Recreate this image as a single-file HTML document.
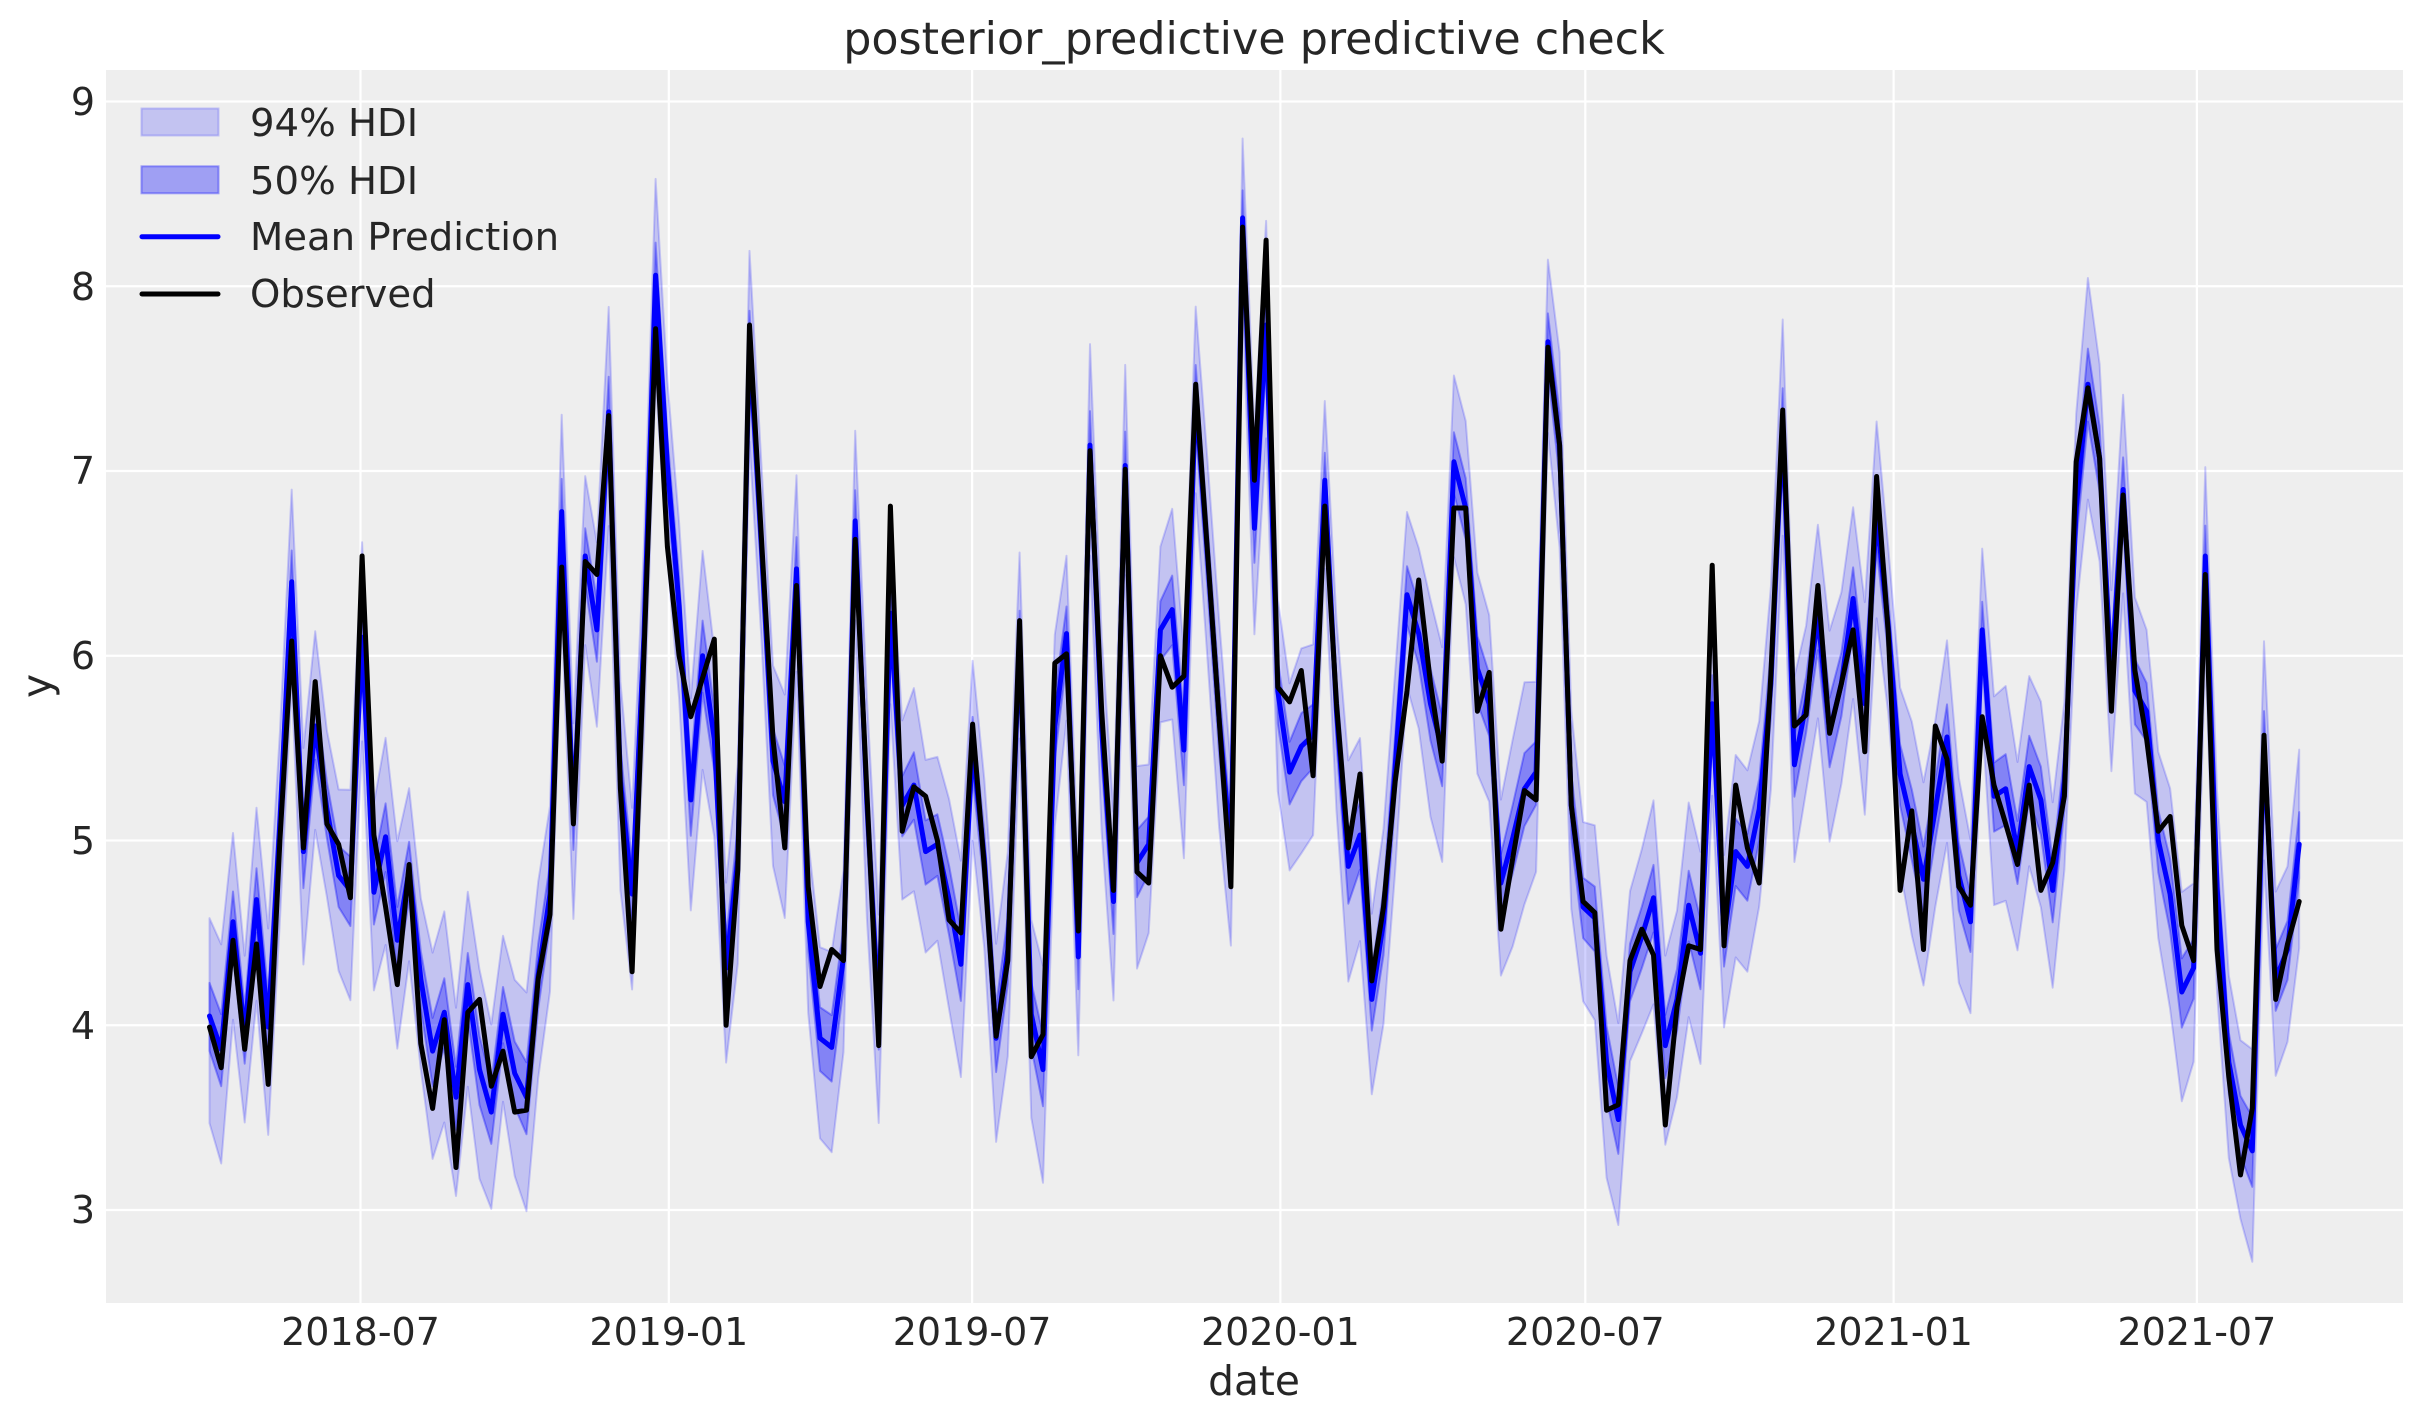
<!DOCTYPE html>
<html>
<head>
<meta charset="utf-8">
<style>
html,body{margin:0;padding:0;background:#ffffff;}
svg{display:block;}
text{font-family:"DejaVu Sans","Liberation Sans",sans-serif;fill:#262626;}
</style>
</head>
<body>
<svg id="chart" xmlns="http://www.w3.org/2000/svg" width="2423" height="1423" viewBox="0 0 2423 1423">
  <defs>
    <clipPath id="pa"><rect x="106" y="70" width="2297" height="1233"/></clipPath>
  </defs>
  <rect x="0" y="0" width="2423" height="1423" fill="#ffffff"/>
  <rect x="106" y="70" width="2297" height="1233" fill="#eeeeee"/>
  <g id="grid" stroke="#ffffff" stroke-width="2.2"></g>
  <g clip-path="url(#pa)">
    <path id="b94" fill="rgb(0,0,255)" fill-opacity="0.18" stroke="rgb(0,0,255)" stroke-opacity="0.18" stroke-width="2" stroke-linejoin="round"/>
    <path id="b50" fill="rgb(0,0,255)" fill-opacity="0.33" stroke="rgb(0,0,255)" stroke-opacity="0.33" stroke-width="2" stroke-linejoin="round"/>
    <path id="lmu" fill="none" stroke="#0000ff" stroke-width="5" stroke-linejoin="round" stroke-linecap="round"/>
    <path id="lobs" fill="none" stroke="#000000" stroke-width="5" stroke-linejoin="round" stroke-linecap="round"/>
  </g>

  <!-- title -->
  <text x="1254" y="54" font-size="44.4" text-anchor="middle">posterior_predictive predictive check</text>

  <!-- y ticks -->
  <g font-size="38" text-anchor="end">
    <text x="95" y="115">9</text>
    <text x="95" y="300">8</text>
    <text x="95" y="484">7</text>
    <text x="95" y="669">6</text>
    <text x="95" y="854">5</text>
    <text x="95" y="1039">4</text>
    <text x="95" y="1223">3</text>
  </g>
  <!-- x ticks -->
  <g font-size="38" text-anchor="middle">
    <text x="360.5" y="1345">2018-07</text>
    <text x="668.8" y="1345">2019-01</text>
    <text x="972.1" y="1345">2019-07</text>
    <text x="1280.4" y="1345">2020-01</text>
    <text x="1585.3" y="1345">2020-07</text>
    <text x="1893.6" y="1345">2021-01</text>
    <text x="2196.9" y="1345">2021-07</text>
  </g>
  <!-- axis labels -->
  <text x="1254" y="1395" font-size="40.7" text-anchor="middle">date</text>
  <text x="51" y="686" font-size="40.7" text-anchor="middle" transform="rotate(-90 51 686)">y</text>

  <!-- legend -->
  <rect x="141.5" y="108.5" width="77" height="27" fill="rgb(0,0,255)" fill-opacity="0.18" stroke="rgb(0,0,255)" stroke-opacity="0.18" stroke-width="2"/>
  <rect x="141.5" y="166.3" width="77" height="27" fill="rgb(0,0,255)" fill-opacity="0.33" stroke="rgb(0,0,255)" stroke-opacity="0.33" stroke-width="2"/>
  <line x1="142" y1="236.7" x2="218" y2="236.7" stroke="#0000ff" stroke-width="5" stroke-linecap="round"/>
  <line x1="142" y1="294" x2="218" y2="294" stroke="#000000" stroke-width="5" stroke-linecap="round"/>
  <g font-size="38.6">
    <text x="250" y="136">94% HDI</text>
    <text x="250" y="194">50% HDI</text>
    <text x="250" y="250">Mean Prediction</text>
    <text x="250" y="307">Observed</text>
  </g>
</svg>
<script>
(function(){
var obs=[3.99,3.77,4.46,3.87,4.44,3.68,5.0,6.08,4.96,5.86,5.09,4.98,4.69,6.54,5.03,4.64,4.22,4.87,3.90,3.55,4.03,3.23,4.07,4.14,3.67,3.86,3.53,3.54,4.25,4.60,
6.48,5.09,6.51,6.44,7.30,5.28,4.29,6.0,7.77,6.59,6.00,5.67,5.88,6.09,4.00,4.84,7.79,6.65,5.55,4.96,6.38,4.75,4.21,4.41,4.35,6.63,5.26,3.89,6.81,5.05,
5.29,5.24,5.00,4.57,4.50,5.63,4.86,3.94,4.35,6.19,3.83,3.95,5.96,6.01,4.51,7.11,5.70,4.73,7.01,4.83,4.77,6.00,5.83,5.89,7.47,6.57,5.66,4.75,8.32,6.95,
8.25,5.83,5.75,5.92,5.35,6.81,5.74,4.96,5.36,4.24,4.64,5.32,5.81,6.41,5.85,5.43,6.80,6.80,5.70,5.91,4.52,4.90,5.27,5.22,7.67,7.14,5.19,4.67,4.61,3.54,
3.57,4.35,4.52,4.38,3.46,4.10,4.43,4.41,6.49,4.43,5.30,4.96,4.77,5.9,7.33,5.62,5.68,6.38,5.58,5.85,6.14,5.48,6.97,6.12,4.73,5.16,4.41,5.62,5.44,4.75,
4.65,5.67,5.30,5.09,4.87,5.30,4.73,4.88,5.24,7.05,7.45,7.07,5.70,6.87,5.92,5.55,5.05,5.13,4.54,4.35,6.44,4.41,3.72,3.19,3.55,5.57,4.14,4.44,4.67];
var mu=[4.05,3.87,4.56,3.95,4.68,3.99,5.1,6.40,4.94,5.62,5.17,4.81,4.73,6.10,4.72,5.02,4.46,4.84,4.25,3.86,4.07,3.61,4.22,3.76,3.53,4.06,3.74,3.61,4.27,4.71,
6.78,5.13,6.54,6.14,7.32,5.32,4.71,6.1,8.06,7.03,6.27,5.22,6.00,5.55,4.31,4.90,7.70,6.60,5.43,5.21,6.47,4.56,3.93,3.88,4.37,6.73,5.20,4.06,6.23,5.19,
5.30,4.94,4.98,4.68,4.33,5.51,4.90,3.93,4.41,6.08,4.06,3.76,5.62,6.12,4.37,7.14,5.60,4.67,7.03,4.88,4.98,6.14,6.25,5.49,7.41,6.55,5.66,4.94,8.37,6.69,
7.79,5.81,5.37,5.51,5.57,6.95,5.70,4.86,5.03,4.14,4.56,5.40,6.33,6.12,5.74,5.49,7.05,6.80,5.93,5.74,4.77,5.01,5.28,5.37,7.70,7.14,5.19,4.64,4.58,3.80,
3.49,4.29,4.48,4.69,3.89,4.14,4.65,4.39,5.74,4.48,4.94,4.86,5.17,5.85,7.26,5.41,5.74,6.21,5.59,5.85,6.31,5.74,6.76,6.16,5.36,5.09,4.79,5.17,5.56,4.81,
4.56,6.14,5.24,5.28,4.94,5.40,5.22,4.73,5.32,6.80,7.47,7.07,5.89,6.90,5.81,5.70,5.00,4.71,4.18,4.31,6.54,4.75,3.80,3.46,3.32,5.51,4.25,4.41,4.98];
function X(i){return 209.5+i*11.74;}
function Y(v){return 101.5+(9-v)*184.75;}
function line(a){var s='';for(var i=0;i<a.length;i++){s+=(i?'L':'M')+X(i).toFixed(1)+' '+Y(a[i]).toFixed(1);}return s;}
function band(up,dn){
  var s='';
  for(var i=0;i<mu.length;i++){s+=(i?'L':'M')+X(i).toFixed(1)+' '+Y(mu[i]+up[i]).toFixed(1);}
  for(var j=mu.length-1;j>=0;j--){s+='L'+X(j).toFixed(1)+' '+Y(mu[j]-dn[j]).toFixed(1);}
  return s+'Z';
}
var u94=[],d94=[],u50=[],d50=[];
for(var i=0;i<mu.length;i++){
  var w=0.05*Math.sin(i*1.7)+0.03*Math.cos(i*0.9);
  u94.push(0.50+w); d94.push(0.55+w);
  u50.push(0.17+w*0.3); d50.push(0.18+w*0.3);
}
document.getElementById('b94').setAttribute('d',band(u94,d94));
document.getElementById('b50').setAttribute('d',band(u50,d50));
document.getElementById('lmu').setAttribute('d',line(mu));
document.getElementById('lobs').setAttribute('d',line(obs));
var g=document.getElementById('grid');
var ns='http://www.w3.org/2000/svg';
[360.5,668.8,972.1,1280.4,1585.3,1893.6,2196.9].forEach(function(x){
  var l=document.createElementNS(ns,'line');
  l.setAttribute('x1',x);l.setAttribute('x2',x);l.setAttribute('y1',70);l.setAttribute('y2',1303);
  g.appendChild(l);
});
[3,4,5,6,7,8,9].forEach(function(v){
  var l=document.createElementNS(ns,'line');
  l.setAttribute('x1',106);l.setAttribute('x2',2403);l.setAttribute('y1',Y(v));l.setAttribute('y2',Y(v));
  g.appendChild(l);
});
})();
</script>
</body>
</html>
